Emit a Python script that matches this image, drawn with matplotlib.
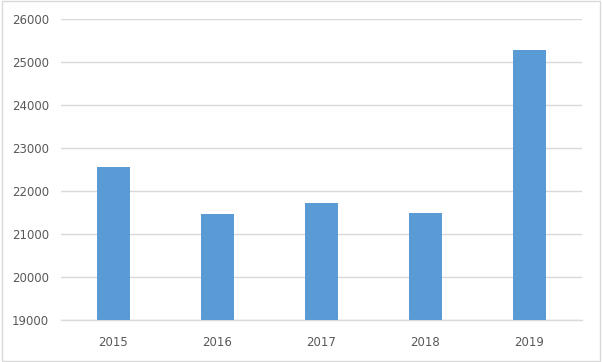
import matplotlib.pyplot as plt
from matplotlib.patches import Rectangle

years = ["2015", "2016", "2017", "2018", "2019"]
values = [22565, 21465, 21720, 21490, 25286]
yticks = [19000, 20000, 21000, 22000, 23000, 24000, 25000, 26000]

fig = plt.figure(figsize=(6.02, 3.62), dpi=100)
ax = fig.add_axes([0.102, 0.1152, 0.864, 0.8315])

ax.bar(years, values, width=0.32, color="#5B9BD5", zorder=3)
ax.set_xlim(-0.5, len(years) - 0.5)
ax.set_ylim(19000, 26000)
ax.set_yticks(yticks)

ax.grid(axis="y", color="#D9D9D9", linewidth=1, zorder=0)
for s in ["top", "right", "left"]:
    ax.spines[s].set_visible(False)
ax.spines["bottom"].set_color("#D9D9D9")
ax.spines["bottom"].set_linewidth(1)

ax.tick_params(axis="both", length=0, labelsize=8.5, labelcolor="#595959")
ax.tick_params(axis="y", pad=9)
ax.tick_params(axis="x", pad=11)

# outer chart border
fig.patches.append(Rectangle((0.003, 0.003), 0.994, 0.994, transform=fig.transFigure,
                             fill=False, edgecolor="#D9D9D9", linewidth=1))

fig.savefig("out.png", dpi=100)
